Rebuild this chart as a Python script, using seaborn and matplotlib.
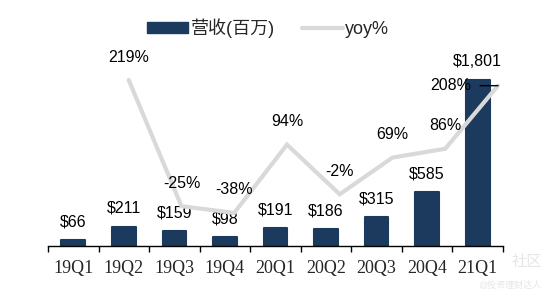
import numpy as np
import pandas as pd
import matplotlib
matplotlib.use("Agg")
import matplotlib.pyplot as plt
import seaborn as sns
from matplotlib.patches import Patch
from matplotlib.lines import Line2D
from matplotlib.ticker import FixedLocator

quarters = ["19Q1", "19Q2", "19Q3", "19Q4", "20Q1", "20Q2", "20Q3", "20Q4", "21Q1"]
revenue = [66, 211, 159, 98, 191, 186, 315, 585, 1801]
yoy = [np.nan, 219, -25, -38, 94, -2, 69, 86, 208]

bar_color = "#1c3a5e"
line_color = "#d9d9d9"

sns.set_theme(style="white")
plt.rcParams["font.family"] = ["Liberation Sans", "Noto Sans CJK SC", "DejaVu Sans"]

fig = plt.figure(figsize=(5.48, 2.98), dpi=100)
pos = [48 / 548, 52 / 298, 455 / 548, 203 / 298]
ax = fig.add_axes(pos)

df = pd.DataFrame({"q": quarters, "rev": revenue, "yoy": yoy})
sns.barplot(data=df, x="q", y="rev", color=bar_color, width=0.47, ax=ax,
            saturation=1)
for p in ax.patches:
    p.set_edgecolor(bar_color)
    p.set_linewidth(1.5)
    p.set_joinstyle("round")

ax.set_xlim(-0.5, 8.5)
ax.set_ylim(0, 2200)
ax.set_xlabel("")
ax.set_ylabel("")
ax.set_yticks([])
for s in ["top", "right", "left"]:
    ax.spines[s].set_visible(False)
ax.spines["bottom"].set_color("black")
ax.spines["bottom"].set_linewidth(1.0)
ax.tick_params(axis="x", which="major", length=0, pad=10)
ax.xaxis.set_minor_locator(FixedLocator(np.arange(-0.5, 9, 1.0)))
ax.tick_params(axis="x", which="minor", length=4, width=1, color="black",
               direction="out", bottom=True)
for lbl in ax.get_xticklabels():
    lbl.set_family(["Liberation Serif", "DejaVu Serif"])
    lbl.set_fontsize(13)

for i, v in enumerate(revenue):
    ax.annotate(f"${v:,}", (i, v), xytext=(0, 13), textcoords="offset points",
                ha="center", va="center", fontsize=11.5, color="black")

# line on its own axes
lax = fig.add_axes(pos, frameon=False)
sns.lineplot(x=np.arange(len(quarters)), y=yoy, ax=lax, color=line_color,
             linewidth=3.0, solid_joinstyle="miter")
lax.set_xlim(-0.53, 8.095)
lax.set_ylim(-102, 290.5)
lax.set_xticks([])
lax.set_yticks([])
lax.patch.set_visible(False)

for i, v in enumerate(yoy):
    if np.isnan(v):
        continue
    if i == len(yoy) - 1:
        lax.annotate(f"{v:.0f}%", (i, v), xytext=(-34, 0), textcoords="offset points",
                     ha="center", va="center", fontsize=11.5, color="black",
                     arrowprops=dict(arrowstyle="-", color="black", lw=1.0,
                                     shrinkA=4, shrinkB=0))
    else:
        lax.annotate(f"{v:.0f}%", (i, v), xytext=(0, 16.5), textcoords="offset points",
                     ha="center", va="center", fontsize=11.5, color="black")

handles = [Patch(facecolor=bar_color, edgecolor=bar_color, label="营收(百万)"),
           Line2D([0], [0], color=line_color, lw=3.0, label="yoy%")]
fig.legend(handles=handles, loc="center", bbox_to_anchor=(268 / 548, 1 - 28 / 298),
           ncol=2, frameon=False, fontsize=13, handlelength=2.27, handleheight=0.6,
           handletextpad=0.15, columnspacing=1.5)

# watermark
fig.text(527 / 548, 1 - 262 / 298, "社区", fontsize=11, color="#e6e6e6",
         ha="center", va="center")
fig.text(510 / 548, 1 - 285 / 298, "@投资理财达人", fontsize=6.5, color="#e6e6e6",
         ha="center", va="center")

fig.savefig("out.png", dpi=100)
